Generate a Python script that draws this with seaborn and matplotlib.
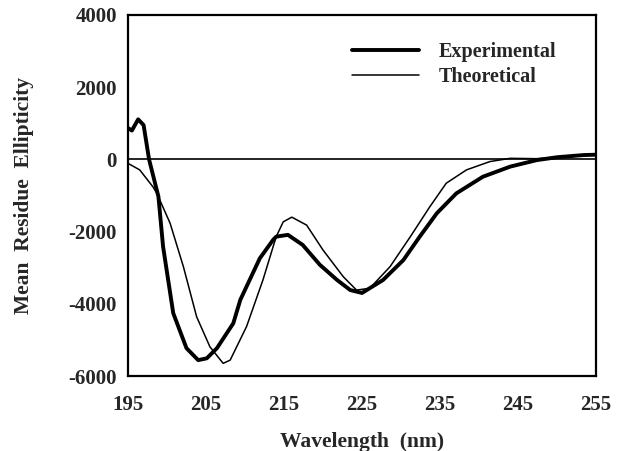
import matplotlib
matplotlib.use("Agg")
import matplotlib.pyplot as plt
import seaborn as sns
import pandas as pd
from matplotlib.ticker import MultipleLocator

# Data
exp_wl = [195.0, 195.5, 196.3, 197.0, 197.7, 198.9, 199.5, 200.8, 202.5, 204.0, 205.1,
          206.4, 208.5, 209.4, 211.9, 213.6, 214.0, 215.5, 217.4, 219.6, 221.8, 223.5,
          225.0, 227.7, 230.3, 232.4, 234.6, 237.1, 240.5, 244.0, 247.4, 250.0, 253.4, 255.0]
exp_val = [870, 800, 1110, 950, 0, -1030, -2420, -4260, -5230, -5560, -5510,
           -5230, -4540, -3890, -2740, -2230, -2140, -2090, -2370, -2920, -3340, -3620,
           -3700, -3340, -2790, -2140, -1490, -940, -480, -200, -20, 60, 120, 130]

theo_wl = [195.0, 196.5, 198.2, 198.7, 200.4, 202.1, 203.8, 205.5, 207.2, 208.1, 210.2,
           212.3, 214.0, 214.9, 216.0, 217.9, 220.0, 222.6, 224.3, 226.0, 228.6, 231.2,
           233.7, 235.8, 238.4, 241.4, 244.0, 247.4, 250.0, 253.4, 255.0]
theo_val = [-110, -290, -760, -940, -1770, -2970, -4360, -5190, -5650, -5560, -4630,
            -3340, -2140, -1730, -1600, -1820, -2510, -3250, -3620, -3570, -2970, -2140,
            -1310, -660, -290, -60, 30, 20, 60, 120, 130]

x_ticks = [195, 205, 215, 225, 235, 245, 255]
y_ticks = [-6000, -4000, -2000, 0, 2000, 4000]

sns.set_theme(style="white")
plt.rcParams['font.family'] = ['Liberation Serif', 'DejaVu Serif']
plt.rcParams['font.weight'] = 'bold'
plt.rcParams['axes.unicode_minus'] = False

fig = plt.figure(figsize=(6.17, 4.51), dpi=100)
ax = fig.add_axes([128/617, 1-376/451, (596-128)/617, (376-15)/451])

df_exp = pd.DataFrame({"wl": exp_wl, "val": exp_val})
df_theo = pd.DataFrame({"wl": theo_wl, "val": theo_val})

sns.lineplot(data=df_exp, x="wl", y="val", ax=ax, color="black", linewidth=2.8,
             label="Experimental", estimator=None, sort=False)
sns.lineplot(data=df_theo, x="wl", y="val", ax=ax, color="black", linewidth=1.1,
             label="Theoretical", estimator=None, sort=False)

ax.axhline(0, color="black", linewidth=1.2, zorder=1)

ax.set_xlim(195, 255)
ax.set_ylim(-6000, 4000)
ax.set_xticks(x_ticks)
ax.set_yticks(y_ticks)
ax.xaxis.set_minor_locator(MultipleLocator(5))
ax.yaxis.set_minor_locator(MultipleLocator(1000))
ax.tick_params(axis="both", which="major", direction="out", length=6, width=1.5,
               color="black", labelsize=15)
ax.tick_params(axis="both", which="minor", direction="out", length=4, width=1.5,
               color="black")
ax.tick_params(axis="x", which="major", pad=8)
ax.tick_params(axis="y", which="major", pad=2)
for lab in ax.get_xticklabels() + ax.get_yticklabels():
    lab.set_fontweight("bold")

for sp in ax.spines.values():
    sp.set_linewidth(1.6)
    sp.set_color("black")

ax.set_xlabel("Wavelength  (nm)", fontsize=15.5, fontweight="bold", labelpad=12)
ax.set_ylabel("Mean  Residue  Ellipticity", fontsize=15.5, fontweight="bold", labelpad=25)

leg = ax.legend(loc="upper left", bbox_to_anchor=(0.44, 0.975), frameon=False,
                handlelength=3.3, handletextpad=1.0, labelspacing=0.25,
                prop={"weight": "bold", "size": 14.5})

fig.savefig("out.png", dpi=100)
